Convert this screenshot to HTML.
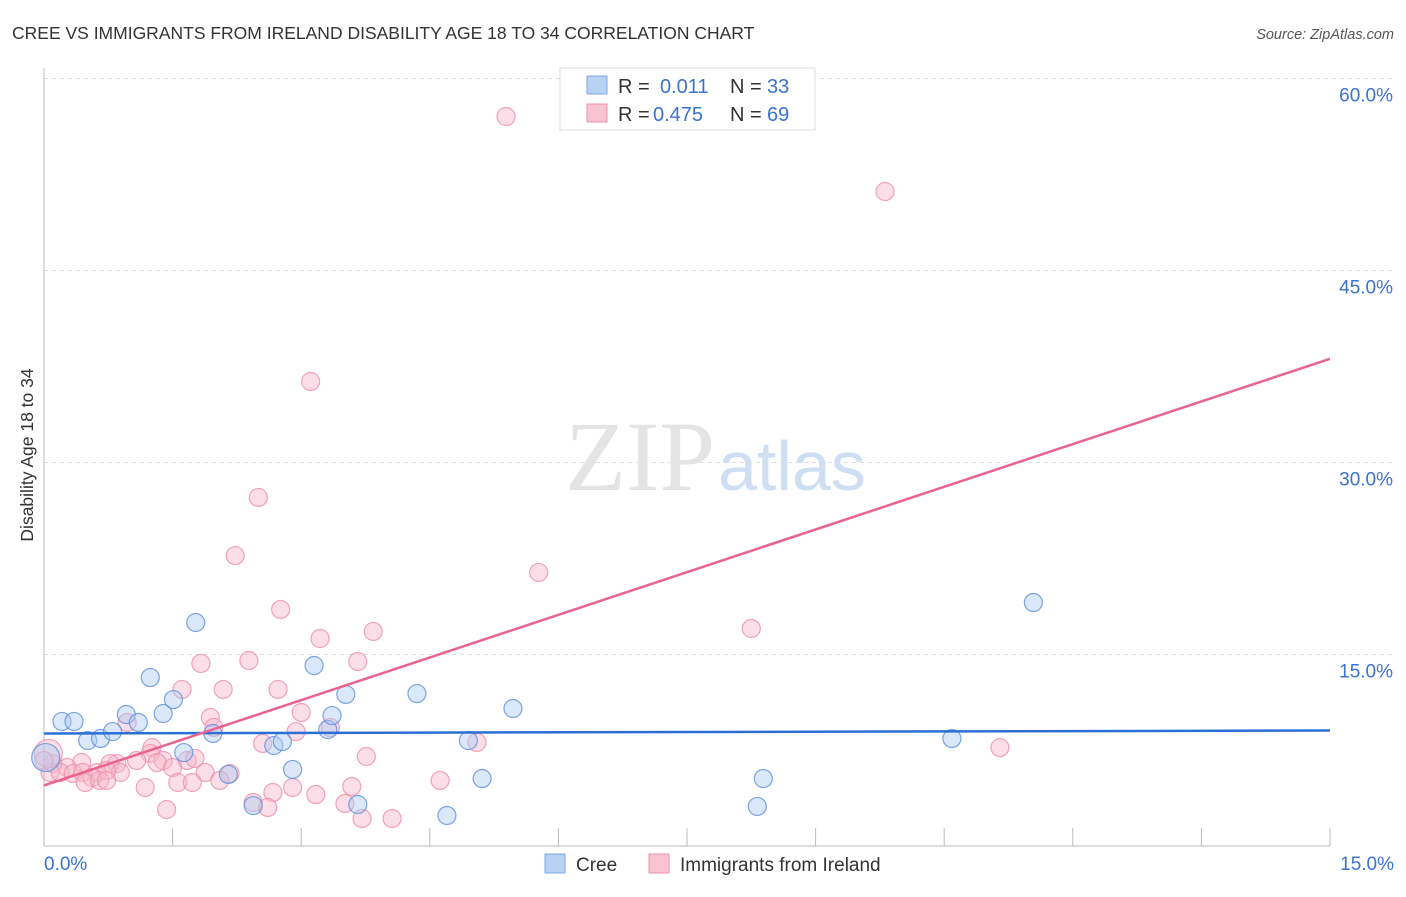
<!DOCTYPE html>
<html><head><meta charset="utf-8"><style>
body{margin:0;background:#fff;font-family:"Liberation Sans",sans-serif}
</style></head><body>
<svg width="1406" height="892" xmlns="http://www.w3.org/2000/svg">
<text x="12" y="39" font-size="17.5" fill="#333">CREE VS IMMIGRANTS FROM IRELAND DISABILITY AGE 18 TO 34 CORRELATION CHART</text>
<text x="1394" y="39" font-size="14.5" fill="#555" font-style="italic" text-anchor="end">Source: ZipAtlas.com</text>
<g id="grid"></g>
<g><text x="715" y="490" font-size="100" font-family="Liberation Serif,serif" fill="#e4e4e4" text-anchor="end">ZIP</text><text x="718" y="490" font-size="70" fill="#cfdff3">atlas</text></g>
<g id="pts"></g>
<g id="lines"></g>
<text transform="translate(33,455) rotate(-90)" font-size="17.5" fill="#333" text-anchor="middle">Disability Age 18 to 34</text>
<g>
<rect x="560" y="68" width="255" height="62" fill="#fff" stroke="#ddd"/>
<rect x="587" y="76" width="20" height="18" fill="#b8d2f4" stroke="#7ea8e0"/>
<rect x="587" y="104" width="20" height="18" fill="#f9c3d2" stroke="#eb94ae"/>
<text x="618" y="93" font-size="20" fill="#333">R = <tspan x="660" fill="#3a73d0">0.011</tspan><tspan x="730">N =</tspan><tspan x="767" fill="#3a73d0">33</tspan></text>
<text x="618" y="121" font-size="20" fill="#333">R = <tspan x="653" fill="#3a73d0">0.475</tspan><tspan x="730">N =</tspan><tspan x="767" fill="#3a73d0">69</tspan></text>
</g>
<g>
<rect x="545" y="854" width="20" height="19" fill="#b8d2f4" stroke="#7ea8e0"/>
<text x="576" y="871" font-size="19" fill="#333">Cree</text>
<rect x="649" y="854" width="20" height="19" fill="#f9c3d2" stroke="#eb94ae"/>
<text x="680" y="871" font-size="19" fill="#333">Immigrants from Ireland</text>
</g>
</svg>
<script>
const yTicks=[15,30,45,60];
const yTickLabels=["15.0%","30.0%","45.0%","60.0%"];
const xTickLabels=["0.0%","15.0%"];
const creeX=[0.21,0.35,0.51,0.66,0.80,0.96,1.10,1.24,1.39,1.51,1.63,1.77,1.97,2.15,2.44,2.68,2.78,2.90,3.15,3.31,3.36,3.52,3.66,4.35,4.70,4.95,5.11,5.47,8.32,8.39,10.59,11.54,0.02];
const creeY=[9.77,9.77,8.28,8.44,8.98,10.31,9.69,13.2,10.39,11.48,7.34,17.5,8.83,5.63,3.2,7.89,8.2,6.02,14.14,9.14,10.23,11.88,3.28,11.95,2.42,8.28,5.31,10.78,3.13,5.31,8.44,19.06,6.95];
const irlX=[2.76,3.22,3.84,2.39,1.83,3.66,1.61,2.09,2.73,1.94,0.97,3.00,1.98,2.94,3.34,2.55,5.05,3.76,1.26,1.24,1.08,1.39,1.67,1.76,1.32,0.85,0.77,0.44,0.27,0.10,0.07,0.19,0.34,0.45,0.62,0.89,0.73,0.56,0.48,0.65,0.73,1.50,1.88,2.17,2.05,1.56,1.73,1.18,4.62,3.59,2.67,2.90,3.17,2.44,2.61,3.51,3.71,4.06,1.43,0.05,5.39,9.81,3.11,2.50,2.23,5.77,8.25,11.15,0.00];
const irlY=[18.52,16.25,16.80,14.53,14.30,14.45,12.27,12.27,12.27,10.08,9.69,10.47,9.30,8.98,9.30,8.05,8.13,7.03,7.73,7.27,6.72,6.72,6.72,6.88,6.56,6.48,6.48,6.56,6.17,6.48,5.78,5.78,5.70,5.78,5.78,5.78,5.94,5.39,5.00,5.16,5.16,6.17,5.78,5.70,5.16,5.00,5.00,4.61,5.16,4.69,4.22,4.61,4.06,3.44,3.05,3.36,2.19,2.19,2.89,7.27,57.03,51.17,36.33,27.27,22.73,21.41,17.03,7.73,6.72];
const creeLine=[8.83,9.06];
const irlLine=[4.77,38.1];
const NS="http://www.w3.org/2000/svg";
const X=v=>44+v*1286/15, Y=v=>846.5-v*12.8;
function mk(tag,attrs,parent){const e=document.createElementNS(NS,tag);for(const k in attrs)e.setAttribute(k,attrs[k]);parent.appendChild(e);return e;}
const g=document.getElementById('grid');
yTicks.forEach((t,i)=>{
 const l=mk('line',{x1:44,x2:1394,y1:Y(t),y2:Y(t),stroke:'#ddd','stroke-dasharray':'4,4'},g);
 
 
 const tx=mk('text',{x:1393,y:Y(t)+23,'font-size':19,fill:'#3a73d0','text-anchor':'end'},g);tx.textContent=yTickLabels[i];
 
 
});
const ax=mk('line',{x1:44,x2:44,y1:68,y2:846,stroke:'#bbb'},g);


const bx=mk('line',{x1:44,x2:1330,y1:846,y2:846,stroke:'#bbb'},g);


for(let i=1;i<=10;i++){const t=mk('line',{x1:X(i*1.5),x2:X(i*1.5),y1:828,y2:846,stroke:'#bbb'},g);
 
 }
[[0,44,'start'],[15,1394,'end']].forEach((a,i)=>{const t=mk('text',{x:a[1],y:870,'font-size':19,fill:'#3a73d0','text-anchor':a[2]},g);t.textContent=xTickLabels[i];
 
 });
const p=document.getElementById('pts');
function pts(xs,ys,fill,stroke,name){xs.forEach((x,i)=>{const big=x<0.06&&ys[i]>6.9&&ys[i]<7.4;
 const c=mk('circle',{cx:X(x),cy:Y(ys[i]),r:big?14:9,fill:fill,'fill-opacity':0.45,stroke:stroke,'stroke-width':1.2,'stroke-opacity':0.8},p);
 
 });}
pts(irlX,irlY,'#f7b6c9','#ec8fab','ireland-point');
pts(creeX,creeY,'#aecbf2','#5c8fdb','cree-point');
const L=document.getElementById('lines');
const l1=mk('line',{x1:X(0),x2:X(15),y1:Y(creeLine[0]),y2:Y(creeLine[1]),stroke:'#2a6fd6','stroke-width':2.5},L);


const l2=mk('line',{x1:X(0),x2:X(15),y1:Y(irlLine[0]),y2:Y(irlLine[1]),stroke:'#e8648e','stroke-width':2.5},L);


</script>
</body></html>
